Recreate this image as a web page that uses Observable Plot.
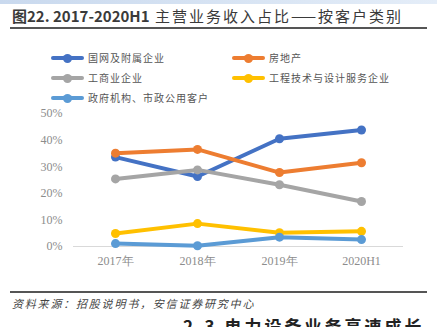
<!DOCTYPE html>
<html><head><meta charset="utf-8">
<script src="https://cdn.jsdelivr.net/npm/d3@7"></script>
<script src="https://cdn.jsdelivr.net/npm/@observablehq/plot@0.6"></script>
<style>
html,body{margin:0;padding:0;background:#fff;}
#wrap{position:relative;width:437px;height:327px;overflow:hidden;font-family:"Noto Sans CJK SC","Noto Sans",sans-serif;}
#topband{position:absolute;left:0;top:0;width:437px;height:4px;background:linear-gradient(to right,#c9d9ee,#e4edf8);}
#title{position:absolute;left:12px;top:5px;font-size:15px;font-weight:bold;color:#3a3a3a;white-space:nowrap;}
#title .cn{font-weight:normal;letter-spacing:2px;margin-left:2px;}
#rule1{position:absolute;left:10px;top:27px;width:417px;height:2px;background:#555;}
#rule2{position:absolute;left:10px;top:291px;width:417px;height:2px;background:#555;}
#src{position:absolute;left:12px;top:295px;font-size:11px;font-style:italic;color:#444;white-space:nowrap;letter-spacing:1.8px;}
#next{position:absolute;left:183px;top:313px;font-size:17px;font-weight:bold;color:#222;white-space:nowrap;letter-spacing:3px;}
#chart{position:absolute;left:0;top:0;}
.leg{position:absolute;font-size:10px;color:#555;white-space:nowrap;height:14px;line-height:14px;}
.leg .ln{position:absolute;left:0;top:5px;width:33px;height:4px;border-radius:2px;}
.leg .dt{position:absolute;left:12px;top:2.5px;width:9px;height:9px;border-radius:50%;}
.leg .tx{position:absolute;left:37px;top:0;letter-spacing:1px;}
</style></head>
<body>
<div id="wrap">
<div id="topband"></div>
<div id="title">图22. 2017-2020H1 <span class="cn">主营业务收入占比——按客户类别</span></div>
<div id="rule1"></div>
<div id="chart"></div>
<div id="legend"></div>
<div id="rule2"></div>
<div id="src">资料来源：招股说明书，安信证券研究中心</div>
<div id="next">2.3 电力设备业务高速成长</div>
</div>
<script>
const periods = ["2017年","2018年","2019年","2020H1"];
const seriesNames = ["国网及附属企业","房地产","工商业企业","工程技术与设计服务企业","政府机构、市政公用客户"];
const seriesColors = ["#4472C4","#ED7D31","#A5A5A5","#FFC000","#5B9BD5"];
const stateGrid = [33.6, 26.3, 40.5, 43.8];
const realEstate = [35.1, 36.5, 27.8, 31.5];
const industrial = [25.4, 28.8, 23.2, 16.9];
const engineering = [4.9, 8.6, 5.2, 5.7];
const government = [1.1, 0.3, 3.5, 2.6];
const yTicks = [0, 10, 20, 30, 40, 50];

const allSeries = [stateGrid, realEstate, industrial, engineering, government];
const data = [];
allSeries.forEach((vals, si) => vals.forEach((v, i) => data.push({period: periods[i], value: v, series: seriesNames[si]})));

const plot = Plot.plot({
  width: 437,
  height: 327,
  marginTop: 113,
  marginBottom: 81,
  marginLeft: 73,
  marginRight: 34,
  style: {fontFamily: "'Liberation Serif','DejaVu Serif',serif", fontSize: "12px", color: "#8c8c8c", background: "transparent"},
  x: {type: "point", domain: periods, padding: 0.5, label: null, tickSize: 0, tickPadding: 10},
  y: {domain: [0, 50], ticks: yTicks, tickFormat: d => d + "%", label: null, tickSize: 0, tickPadding: 11},
  color: {domain: seriesNames, range: seriesColors},
  marks: [
    Plot.ruleY([0], {stroke: "#d9d9d9", strokeWidth: 1}),
    Plot.axisX({tickSize: 0, tickPadding: 10, fontFamily: "'Liberation Serif',serif", fill: "#8c8c8c"}),
    Plot.axisY({ticks: yTicks, tickFormat: d => d + "%", tickSize: 0, tickPadding: 11, fill: "#8c8c8c"}),
    Plot.line(data, {x: "period", y: "value", z: "series", stroke: "series", strokeWidth: 4, strokeLinecap: "round"}),
    Plot.dot(data, {x: "period", y: "value", fill: "series", r: 4.5, stroke: "none"})
  ]
});
document.getElementById("chart").appendChild(plot);

const legend = document.getElementById("legend");
const legPos = [[51, 51], [232, 51], [51, 71], [232, 71], [51, 91]];
seriesNames.forEach((name, i) => {
  const d = document.createElement("div");
  d.className = "leg";
  d.style.left = legPos[i][0] + "px";
  d.style.top = legPos[i][1] + "px";
  d.innerHTML = `<div class="ln" style="background:${seriesColors[i]}"></div><div class="dt" style="background:${seriesColors[i]}"></div><div class="tx">${name}</div>`;
  legend.appendChild(d);
});
</script>
</body></html>
